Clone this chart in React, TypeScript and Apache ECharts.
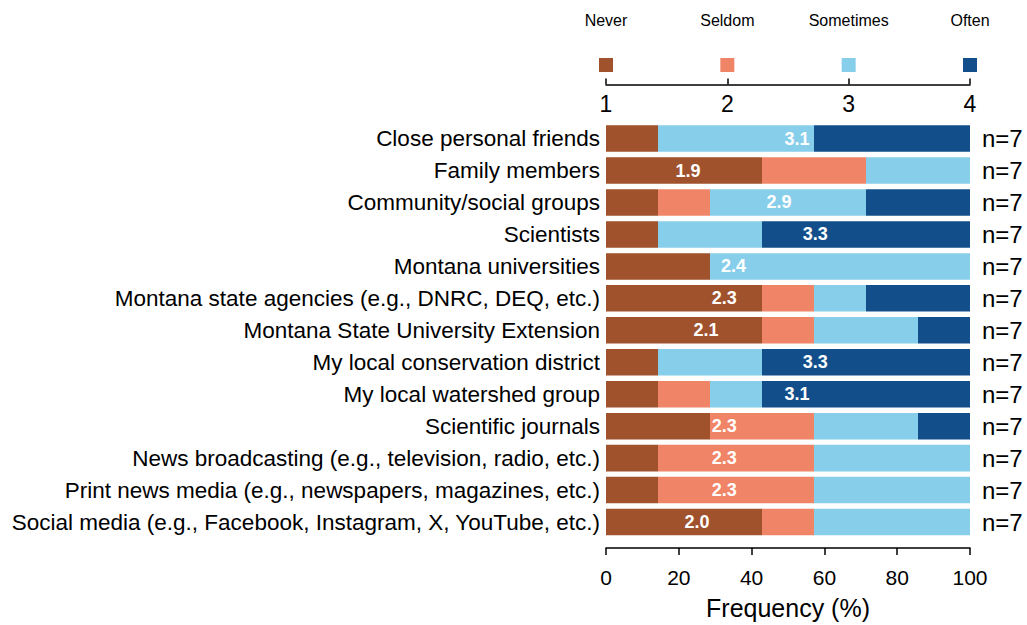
import React, { useEffect, useRef } from "react";
import * as echarts from "echarts";

const categories = [
  "Close personal friends",
  "Family members",
  "Community/social groups",
  "Scientists",
  "Montana universities",
  "Montana state agencies (e.g., DNRC, DEQ, etc.)",
  "Montana State University Extension",
  "My local conservation district",
  "My local watershed group",
  "Scientific journals",
  "News broadcasting (e.g., television, radio, etc.)",
  "Print news media (e.g., newspapers, magazines, etc.)",
  "Social media (e.g., Facebook, Instagram, X, YouTube, etc.)",
];

const responseNames = ["Never", "Seldom", "Sometimes", "Often"];
const responseColors = ["#A0522D", "#F08466", "#87CEEB", "#124F8A"];

// counts of respondents (n = 7)
const neverCounts = [1, 3, 1, 1, 2, 3, 3, 1, 1, 2, 1, 1, 3];
const seldomCounts = [0, 2, 1, 0, 0, 1, 1, 0, 1, 2, 3, 3, 1];
const sometimesCounts = [3, 2, 3, 2, 5, 1, 2, 2, 1, 2, 3, 3, 3];
const oftenCounts = [3, 0, 2, 4, 0, 2, 1, 4, 4, 1, 0, 0, 0];
const nValues = [7, 7, 7, 7, 7, 7, 7, 7, 7, 7, 7, 7, 7];

const bottomTicks = [0, 20, 40, 60, 80, 100];
const topTicks = [1, 2, 3, 4];

const FONT = '"Liberation Sans", Arial, Helvetica, sans-serif';

export default function App() {
  const ref = useRef<HTMLDivElement>(null);

  useEffect(() => {
    if (!ref.current) return;
    const chart = echarts.init(ref.current, null, { renderer: "svg" });

    const countSets = [neverCounts, seldomCounts, sometimesCounts, oftenCounts];
    const pct = (c: number[]) => c.map((v, i) => (v / nValues[i]) * 100);
    const means = categories.map((_, i) => {
      const s = countSets.reduce((acc, arr, k) => acc + arr[i] * (k + 1), 0);
      return Math.round((s / nValues[i]) * 10) / 10;
    });

    const barSeries = countSets.map((c, k) => ({
      type: "bar",
      name: responseNames[k],
      stack: "total",
      xAxisIndex: 0,
      yAxisIndex: 0,
      barCategoryGap: "17%",
      data: pct(c),
      itemStyle: { color: responseColors[k] },
      emphasis: { disabled: true },
    }));

    const option: any = {
      animation: false,
      textStyle: { fontFamily: FONT },
      grid: [
        { left: 606, right: 57, top: 122.6, bottom: 84.7 },
        { left: 606, right: 57, top: 58, height: 14 },
      ],
      xAxis: [
        {
          type: "value",
          gridIndex: 0,
          position: "bottom",
          min: bottomTicks[0],
          max: bottomTicks[bottomTicks.length - 1],
          interval: 20,
          offset: 10,
          splitLine: { show: false },
          axisLine: { show: true, lineStyle: { color: "#000", width: 1.5 } },
          axisTick: { show: true, length: 7, lineStyle: { color: "#000", width: 1.5 } },
          axisLabel: { color: "#000", fontSize: 21, margin: 19, fontFamily: FONT },
          name: "Frequency (%)",
          nameLocation: "middle",
          nameGap: 47,
          nameTextStyle: { color: "#000", fontSize: 25, fontFamily: FONT },
        },
        {
          type: "value",
          gridIndex: 0,
          position: "top",
          min: topTicks[0],
          max: topTicks[topTicks.length - 1],
          interval: 1,
          offset: 38,
          splitLine: { show: false },
          axisLine: { show: true, lineStyle: { color: "#000", width: 1.5 } },
          axisTick: { show: true, inside: false, length: 6, lineStyle: { color: "#000", width: 1.5 } },
          axisLabel: { inside: true, color: "#000", fontSize: 23, margin: 8, fontFamily: FONT },
        },
        {
          type: "value",
          gridIndex: 1,
          min: topTicks[0],
          max: topTicks[topTicks.length - 1],
          show: false,
        },
      ],
      yAxis: [
        {
          type: "category",
          gridIndex: 0,
          data: categories,
          inverse: true,
          axisLine: { show: false },
          axisTick: { show: false },
          axisLabel: { color: "#000", fontSize: 22.5, margin: 6, fontFamily: FONT },
        },
        {
          type: "category",
          gridIndex: 0,
          position: "right",
          data: categories,
          inverse: true,
          axisLine: { show: false },
          axisTick: { show: false },
          axisLabel: {
            color: "#000",
            fontSize: 24,
            margin: 12,
            fontFamily: FONT,
            formatter: (_v: string, i: number) => "n=" + nValues[i],
          },
        },
        {
          type: "value",
          gridIndex: 1,
          min: -1,
          max: 1,
          show: false,
        },
      ],
      series: [
        ...barSeries,
        {
          type: "scatter",
          xAxisIndex: 0,
          yAxisIndex: 0,
          symbolSize: 0,
          itemStyle: { color: "rgba(0,0,0,0)", opacity: 1 },
          z: 10,
          data: categories.map((c, i) => [(means[i] - 1) * 25, c]),
          label: {
            show: true,
            position: "inside",
            color: "#fff",
            opacity: 1,
            fontWeight: "bold",
            fontSize: 18,
            fontFamily: FONT,
            formatter: (p: any) => means[p.dataIndex].toFixed(1),
          },
          emphasis: { disabled: true },
        },
        {
          type: "scatter",
          xAxisIndex: 2,
          yAxisIndex: 2,
          symbol: "rect",
          symbolSize: 14,
          data: topTicks.map((t, k) => ({
            value: [t, 0],
            itemStyle: { color: responseColors[k], opacity: 1 },
          })),
          label: {
            show: true,
            position: "top",
            distance: 30,
            color: "#000",
            fontSize: 16,
            fontFamily: FONT,
            formatter: (p: any) => responseNames[p.dataIndex],
          },
          emphasis: { disabled: true },
        },
      ],
    };

    chart.setOption(option);
    return () => chart.dispose();
  }, []);

  return (
    <div
      ref={ref}
      style={{ position: "fixed", left: 0, top: 0, width: 1027, height: 625, background: "#fff" }}
    />
  );
}
